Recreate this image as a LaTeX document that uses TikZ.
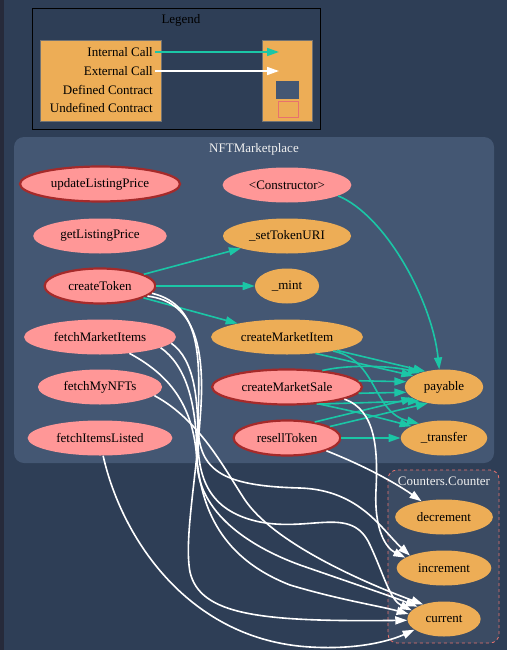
\documentclass[tikz,border=0pt]{standalone}
\usepackage{fontspec}
\setmainfont{Liberation Serif}
\usetikzlibrary{arrows.meta,shapes.geometric}

\definecolor{bgnavy}{HTML}{2E3E56}
\definecolor{stripdark}{HTML}{262A3A}
\definecolor{clusterblue}{HTML}{445773}
\definecolor{undefblue}{HTML}{3B4B63}
\definecolor{undefred}{HTML}{E8726D}
\definecolor{pubpink}{HTML}{FF9797}
\definecolor{privorange}{HTML}{EDAD56}
\definecolor{callteal}{HTML}{1BC6A6}
\definecolor{payborder}{HTML}{A52A2A}
\definecolor{labelwhite}{HTML}{F0F0F0}

\begin{document}
\begin{tikzpicture}[x=1pt,y=-1pt,
          oval/.style={ellipse, text=black, minimum height=35pt, inner xsep=7.5pt,
            inner ysep=0pt, font=\fontsize{13}{15}\selectfont},
          pinkoval/.style={oval, fill=pubpink},
          payoval/.style={oval, fill=pubpink, draw=payborder, line width=2.2pt},
          orangeoval/.style={oval, fill=privorange},
          clustertitle/.style={text=labelwhite, font=\fontsize{13}{15}\selectfont},
          keytext/.style={anchor=east, inner sep=2pt, font=\fontsize{13}{15}\selectfont},
          tealcall/.style={draw=callteal, line width=1.6pt, -{Triangle[length=12pt,width=8pt]}},
          whitecall/.style={draw=white, line width=1.6pt, -{Triangle[length=12pt,width=8pt]}}]

        \useasboundingbox (0,0) rectangle (507,650);
        \fill[bgnavy] (0,0) rectangle (507,650);
        \fill[stripdark] (0,0) rectangle (4,650);

        % legend
        \draw[black, line width=0.8pt] (32,8) rectangle (320,129);
        \node[font=\fontsize{13}{15}\selectfont] (legendtitle) at (181,20) {Legend};
        \node[rectangle, fill=privorange, draw=black!55, minimum width=121pt,
          minimum height=81pt] (keyleft) at (100.5,80.5) {};
        \node[rectangle, fill=privorange, draw=black!55, minimum width=50pt,
          minimum height=81pt] (keyright) at (287,80.5) {};
        \node[keytext] (intlabel)   at (155,52)  {Internal Call};
        \node[keytext] (extlabel)   at (155,71)  {External Call};
        \node[keytext] (deflabel)   at (155,90)  {Defined Contract};
        \node[keytext] (undeflabel) at (155,108) {Undefined Contract};
        \coordinate (inttip) at (279,52);
        \coordinate (exttip) at (279,71);
        \draw[tealcall]  (intlabel.east) -- (inttip);
        \draw[whitecall] (extlabel.east) -- (exttip);
        \node[rectangle, fill=clusterblue, minimum width=23pt, minimum height=18pt,
          inner sep=0pt] (defsquare) at (287.5,90) {};
        \node[rectangle, draw=undefred, minimum width=20pt, minimum height=16pt,
          inner sep=0pt] (undefsquare) at (288,109) {};

        % contract clusters
        \fill[clusterblue, rounded corners=10pt] (14,137) rectangle (494,463);
        \node[clustertitle] (markettitle) at (254,149) {NFTMarketplace};
        \filldraw[fill=undefblue, draw=undefred, dashed, line width=0.8pt,
          rounded corners=9pt] (388,470) rectangle (499,643);
        \node[clustertitle] (countertitle) at (444,481) {Counters.Counter};

        % functions
        \node[payoval]    (updatePrice) at (100,184) {updateListingPrice};
        \node[pinkoval]   (getPrice)    at (100,236) {getListingPrice};
        \node[payoval]    (createToken) at (100,286) {createToken};
        \node[pinkoval]   (fetchMarket) at (100,337) {fetchMarketItems};
        \node[pinkoval]   (fetchMyNFTs) at (100,387) {fetchMyNFTs};
        \node[pinkoval]   (fetchListed) at (100,438) {fetchItemsListed};

        \node[pinkoval]   (ctor)        at (287,185) {<Constructor>};
        \node[orangeoval] (setURI)      at (287,236) {\_setTokenURI};
        \node[orangeoval] (mint)        at (287,286) {\_mint};
        \node[orangeoval] (createItem)  at (287,337) {createMarketItem};
        \node[payoval]    (createSale)  at (287,387) {createMarketSale};
        \node[payoval]    (resell)      at (287,438) {resellToken};

        \node[orangeoval] (payable)     at (444,387) {payable};
        \node[orangeoval] (transfer)    at (444,438) {\_transfer};

        \node[orangeoval] (decrement)   at (444,517) {decrement};
        \node[orangeoval] (increment)   at (444,568) {increment};
        \node[orangeoval] (current)     at (444,619) {current};

        % internal calls
        \draw[tealcall] (createToken) -- (setURI);
        \draw[tealcall] (createToken) -- (mint);
        \draw[tealcall] (createToken) -- (createItem);
        \draw[tealcall] (ctor.-12) .. controls (385,215) and (432,300) .. (payable.105);
        \draw[tealcall] (createItem.-30) -- (payable.160);
        \draw[tealcall] (createItem.-15) -- (payable.140);
        \draw[tealcall] (createItem.-17) .. controls (378,360) and (372,412) .. (transfer.150);
        \draw[tealcall] (createSale.25) .. controls (350,364) and (392,366) .. (payable.150);
        \draw[tealcall] (createSale.5) -- (payable.172);
        \draw[tealcall] (createSale.-5) -- (payable.-172);
        \draw[tealcall] (createSale.-30) -- (payable.-150);
        \draw[tealcall] (createSale.-28) .. controls (365,414) .. (transfer.160);
        \draw[tealcall] (resell.30) -- (payable.-160);
        \draw[tealcall] (resell.15) -- (payable.-135);
        \draw[tealcall] (resell) -- (transfer);

        % external calls
        \draw[whitecall] (createToken.-8) .. controls (202,305) and (200,360) .. (198,420)
          .. controls (197,470) and (220,486) .. (300,488)
          .. controls (360,490) and (382,530) .. (increment.160);
        \draw[whitecall] (createToken.-12) .. controls (196,302) and (206,350) .. (200,420)
          .. controls (196,480) and (184,540) .. (190,572)
          .. controls (200,615) and (260,622) .. (current.182);
        \draw[whitecall] (fetchMarket.-5) .. controls (195,360) and (198,400) .. (198,440)
          .. controls (198,482) and (212,512) .. (260,522)
          .. controls (312,532) and (352,505) .. (370,545)
          .. controls (384,575) and (390,600) .. (current.165);
        \draw[whitecall] (fetchMarket.-10) .. controls (185,365) and (197,400) .. (197,460)
          .. controls (197,502) and (232,540) .. (300,565)
          .. controls (352,583) and (396,598) .. (current.155);
        \draw[whitecall] (fetchMarket.-29) .. controls (160,370) and (190,395) .. (196,450)
          .. controls (200,502) and (216,556) .. (290,585)
          .. controls (340,600) and (380,606) .. (current.172);
        \draw[whitecall] (fetchMyNFTs.-9) .. controls (200,420) and (225,470) .. (245,500)
          .. controls (272,540) and (352,578) .. (current.145);
        \draw[whitecall] (fetchListed.-80) .. controls (122,540) and (190,640) .. (310,647)
          .. controls (360,650) and (392,640) .. (current.200);
        \draw[whitecall] (createSale.-12) .. controls (376,410) and (378,450) .. (376,490)
          .. controls (374,530) and (386,548) .. (increment.165);
        \draw[whitecall] (resell.-18) .. controls (370,468) and (400,486) .. (decrement.145);

      \end{tikzpicture}
\end{document}
